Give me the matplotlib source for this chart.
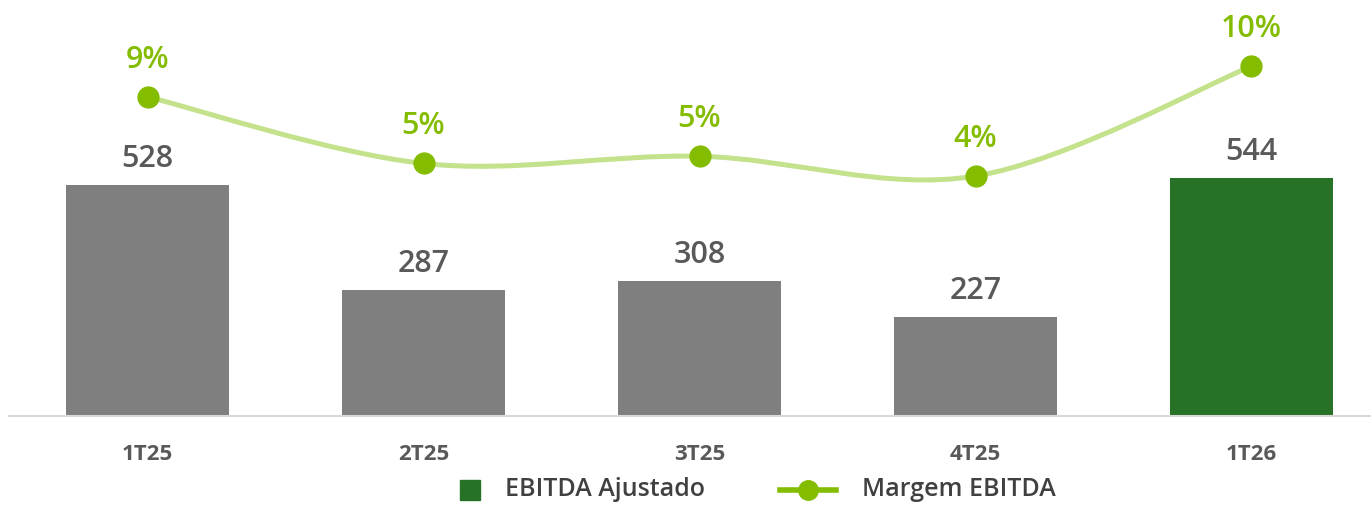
import numpy as np
import matplotlib
matplotlib.use("Agg")
import matplotlib.pyplot as plt
from matplotlib.path import Path
from matplotlib.patches import PathPatch
from matplotlib.lines import Line2D

# dados
quarters = ["1T25", "2T25", "3T25", "4T25", "1T26"]
ebitda = [528, 287, 308, 227, 544]
margem = [8.6, 4.9, 5.3, 4.2, 10.3]   # % (rotulos arredondados)

plt.rcParams['font.family'] = ['Open Sans', 'DejaVu Sans']

gray = "#7F7F7F"
dark_green = "#277227"
lime = "#84BC00"
lime_light = "#C4E18C"
label_gray = "#595959"

W, H = 1371, 505
fig = plt.figure(figsize=(W / 100, H / 100), dpi=100)
ax = fig.add_axes([9 / W, 89 / H, 1362 / W, 416 / H])
ax2 = ax.twinx()

x = np.arange(len(quarters))
colors = [gray] * (len(quarters) - 1) + [dark_green]
ax.bar(x, ebitda, width=0.59, color=colors, zorder=2)
ax.set_xlim(-0.502, 4.433)
ax.set_ylim(0, 951)

for xi, v in zip(x, ebitda):
    ax.annotate(f"{v}", (xi, v), xytext=(0, 13), textcoords="offset points",
                ha="center", va="baseline", fontsize=22, color=label_gray,
                fontweight="semibold")

for xi, q in zip(x, quarters):
    ax.text(xi, -0.106, q, transform=ax.get_xaxis_transform(), ha="center",
            va="baseline", fontsize=16, color=label_gray, fontweight="bold")

# linha suavizada da margem
ax2.set_ylim(-9.13, 13.98)
pts = np.column_stack([x, margem]).astype(float)
verts = [tuple(pts[0])]
codes = [Path.MOVETO]
n = len(pts)
for i in range(n - 1):
    p0 = pts[max(i - 1, 0)]
    p1 = pts[i]
    p2 = pts[i + 1]
    p3 = pts[min(i + 2, n - 1)]
    c1 = p1 + (p2 - p0) / 6
    c2 = p2 - (p3 - p1) / 6
    verts += [tuple(c1), tuple(c2), tuple(p2)]
    codes += [Path.CURVE4] * 3
ax2.add_patch(PathPatch(Path(verts, codes), fill=False, edgecolor=lime_light,
                        lw=3.6, capstyle="round", zorder=3))
ax2.plot(x, margem, ls="none", marker="o", markersize=15, color=lime, zorder=4)

for xi, m in zip(x, margem):
    ax2.annotate(f"{m:.0f}%", (xi, m), xytext=(0, 21), textcoords="offset points",
                 ha="center", va="baseline", fontsize=22, color=lime,
                 fontweight="semibold")

for a in (ax, ax2):
    a.set_xticks([])
    a.set_yticks([])
    for s in a.spines.values():
        s.set_visible(False)
ax.spines["bottom"].set_visible(True)
ax.spines["bottom"].set_color("#D9D9D9")
ax.spines["bottom"].set_linewidth(1.5)

# legenda manual (posicoes em pixels da figura)
ly = 1 - 490 / H
fig.add_artist(Line2D([470 / W], [ly], ls="none", marker="s", markersize=14,
                      color=dark_green))
fig.text(505 / W, ly, "EBITDA Ajustado", ha="left", va="center", fontsize=18,
         color="#404040", fontweight="semibold")
fig.add_artist(Line2D([780 / W, 836 / W], [ly, ly], color=lime, lw=4))
fig.add_artist(Line2D([808 / W], [ly], ls="none", marker="o", markersize=14,
                      color=lime))
fig.text(862 / W, ly, "Margem EBITDA", ha="left", va="center", fontsize=18,
         color="#404040", fontweight="semibold")

fig.savefig("out.png", dpi=100)
